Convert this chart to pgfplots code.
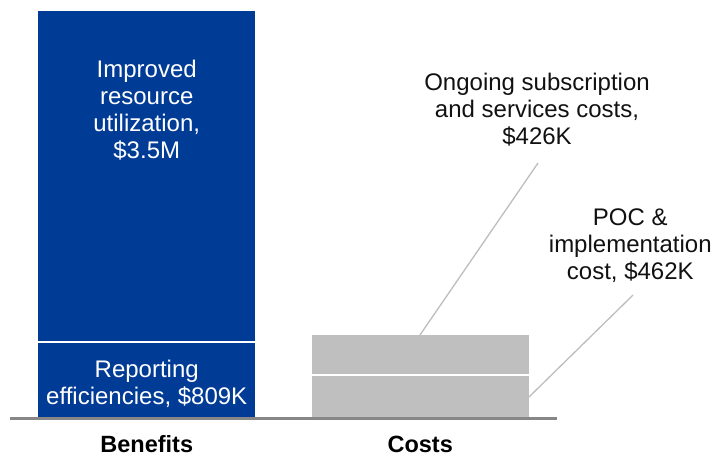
\documentclass[border=0pt]{standalone}
\usepackage{fontspec}
\setmainfont{Liberation Sans}
\usepackage{pgfplots}
\pgfplotsset{compat=1.18}
\definecolor{bblue}{HTML}{003C96}
\definecolor{cgray}{HTML}{BFBFBF}
\definecolor{basegray}{HTML}{878787}
\definecolor{leadgray}{HTML}{BDBDBD}
\definecolor{txt}{HTML}{111111}
\begin{document}
\begin{tikzpicture}
\useasboundingbox (-10pt,-38.5pt) rectangle (705pt,418.5pt);
\begin{axis}[
  scale only axis, width=547pt, height=408pt,
  at={(0,0)}, anchor=south west,
  xmin=-0.5, xmax=1.5, ymin=0, ymax=4309,
  hide axis, clip=false,
  ybar stacked, bar width=219pt,
]
\addplot[fill=bblue, draw=white, line width=2pt] coordinates {(0,809) (1,0)};
\addplot[fill=bblue, draw=white, line width=2pt] coordinates {(0,3500) (1,0)};
\addplot[fill=cgray, draw=white, line width=2pt] coordinates {(0,0) (1,462)};
\addplot[fill=cgray, draw=white, line width=2pt] coordinates {(0,0) (1,426)};
\coordinate (b0) at (axis cs:-0.5,0);
\coordinate (b1) at (axis cs:1.5,0);
\coordinate (l1a) at (axis cs:0.999,882);
\coordinate (l1b) at (axis cs:1.4305,2698);
\coordinate (l2a) at (axis cs:1.3976,227);
\coordinate (l2b) at (axis cs:1.778,1304);
\coordinate (t1) at (axis cs:0,3253);
\coordinate (t2) at (axis cs:0,370);
\coordinate (t3) at (axis cs:1.427,3265);
\coordinate (t4) at (axis cs:1.768,1830);
\coordinate (c0) at (axis cs:0,0);
\coordinate (c1) at (axis cs:1,0);
\end{axis}
\draw[basegray, line width=2.5pt] (b0) -- (b1);
\draw[leadgray, line width=1.3pt] (l1a) -- (l1b);
\draw[leadgray, line width=1.3pt] (l2a) -- (l2b);
\node[align=center, text=white, font=\fontsize{24}{27}\selectfont] at (t1) {Improved\\resource\\utilization,\\\$3.5M};
\node[align=center, text=white, font=\fontsize{24}{27}\selectfont] at (t2) {Reporting\\efficiencies, \$809K};
\node[align=center, text=txt, font=\fontsize{24}{27}\selectfont] at (t3) {Ongoing subscription\\and services costs,\\\$426K};
\node[align=center, text=txt, font=\fontsize{24}{27}\selectfont] at (t4) {POC \&\\implementation\\cost, \$462K};
\node[anchor=base, yshift=-34.5pt, text=black, font=\bfseries\fontsize{23.5}{27}\selectfont] at (c0) {Benefits};
\node[anchor=base, yshift=-34.5pt, text=black, font=\bfseries\fontsize{23.5}{27}\selectfont] at (c1) {Costs};
\end{tikzpicture}
\end{document}
